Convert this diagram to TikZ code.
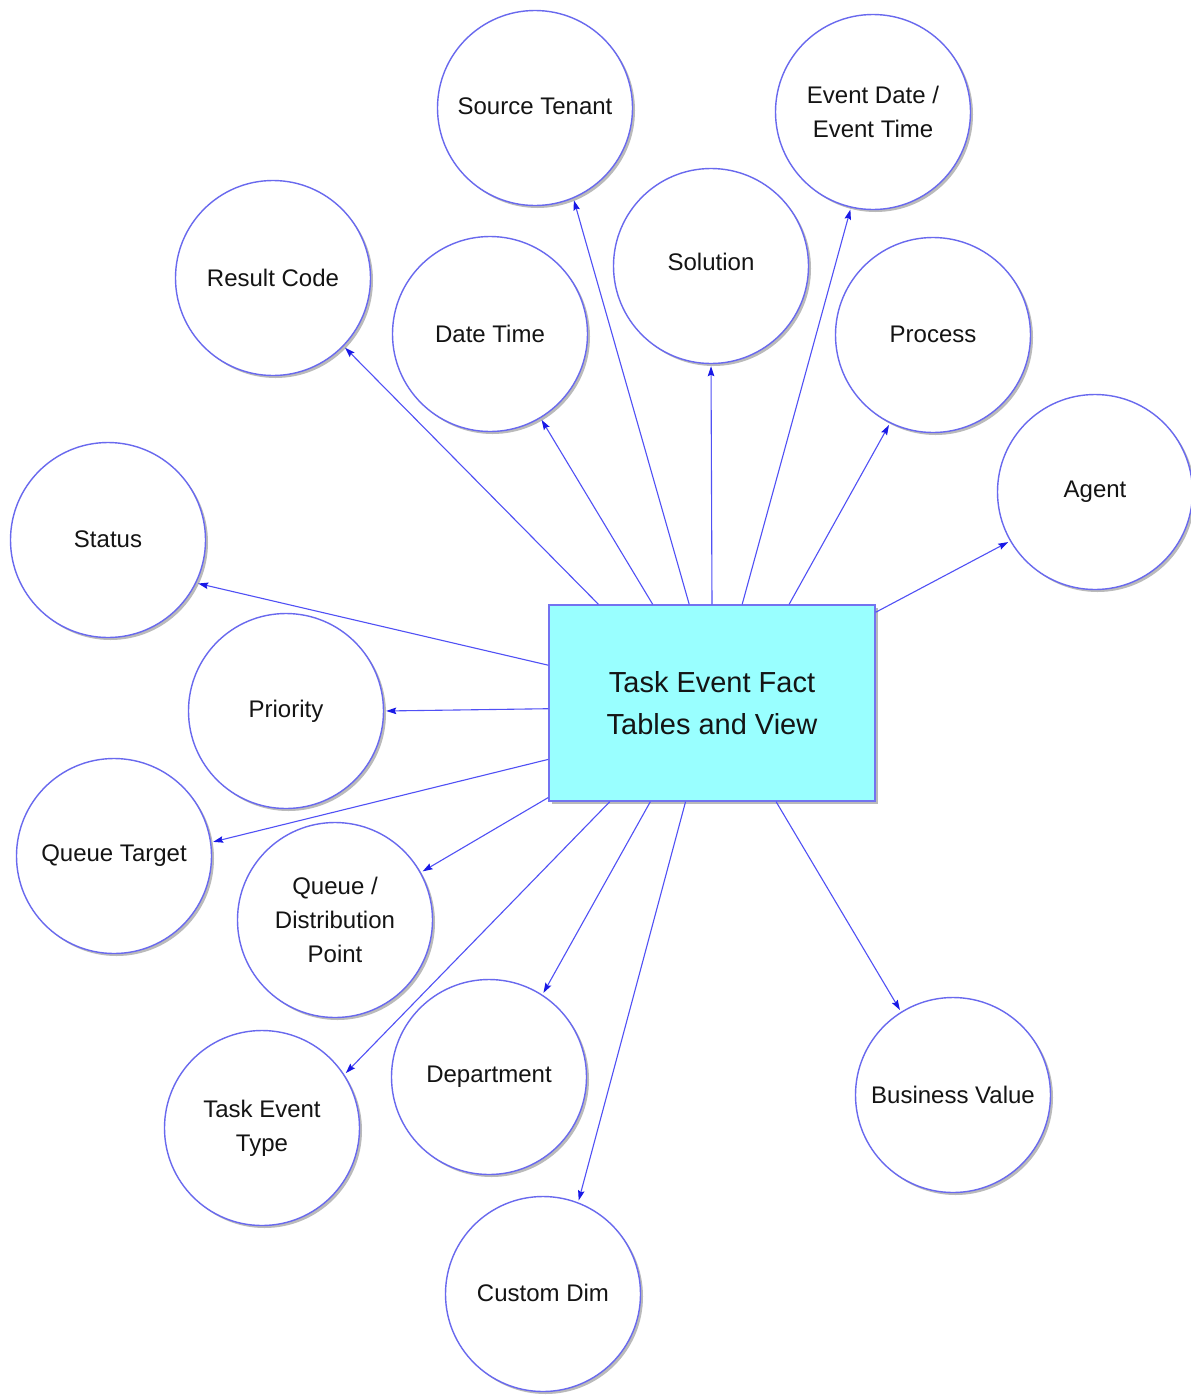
\documentclass[tikz,border=0pt]{standalone}
\usepackage{fontspec}
\setmainfont{Liberation Sans}
\usetikzlibrary{arrows.meta,shadows}
\definecolor{ringblue}{RGB}{105,105,238}
\definecolor{linkblue}{RGB}{80,80,245}
\definecolor{tipblue}{RGB}{25,25,230}
\definecolor{factfill}{RGB}{153,255,255}
\definecolor{factedge}{RGB}{115,115,240}
\definecolor{txtgray}{RGB}{20,20,20}
\tikzset{
  dimcircle/.style={circle, draw=ringblue, line width=1.4pt, fill=white,
    minimum size=195pt, inner sep=0pt, align=center, text=txtgray,
    font=\fontsize{24}{34}\selectfont,
    drop shadow={shadow xshift=2.5pt, shadow yshift=-2.5pt, fill=black!45, opacity=.6}},
  factbox/.style={rectangle, draw=factedge, line width=1.4pt, fill=factfill,
    minimum width=326pt, minimum height=196pt, inner sep=0pt, align=center,
    text=txtgray, font=\fontsize{29}{42}\selectfont,
    drop shadow={shadow xshift=2.5pt, shadow yshift=-2.5pt, fill=black!45, opacity=.6}},
  link/.style={draw=linkblue, line width=1.1pt, shorten >=2pt,
    -{Stealth[length=10pt,width=6.5pt,inset=1.5pt,fill=tipblue,color=tipblue]}}
}
\begin{document}
\begin{tikzpicture}[x=1pt,y=-1pt]
\useasboundingbox (0,0) rectangle (1191,1395);
\fill[white] (0,0) rectangle (1191,1395);

% central fact table
\node[factbox] (fact) at (712,703) {Task Event Fact\\Tables and View};

% dimensions
\node[dimcircle] (src)  at (535,108)  {\raisebox{3pt}{Source Tenant}};
\node[dimcircle] (evt)  at (873,112)  {Event Date /\\Event Time};
\node[dimcircle] (res)  at (273,278)  {Result Code};
\node[dimcircle] (dt)   at (490,334)  {Date Time};
\node[dimcircle] (sol)  at (711,266)  {\raisebox{8pt}{Solution}};
\node[dimcircle] (proc) at (933,335)  {\raisebox{2pt}{Process}};
\node[dimcircle] (agt)  at (1095,492) {\raisebox{6pt}{Agent}};
\node[dimcircle] (stat) at (108,540)  {\raisebox{2pt}{Status}};
\node[dimcircle] (prio) at (286,711)  {Priority};
\node[dimcircle] (qt)   at (114,856)  {\raisebox{2pt}{Queue Target}};
\node[dimcircle] (qdp)  at (335,920)  {Queue /\\Distribution\\Point};
\node[dimcircle] (dept) at (489,1077) {\raisebox{5pt}{Department}};
\node[dimcircle] (tet)  at (262,1128) {Task Event\\Type};
\node[dimcircle] (bv)   at (953,1095) {Business Value};
\node[dimcircle] (cd)   at (543,1294) {\raisebox{3pt}{Custom Dim}};

% connectors from the fact table to each dimension
\draw[link] (fact.139)   -- (res.316.1);
\draw[link] (fact.121.6) -- (dt.301.6);
\draw[link] (fact.103.6) -- (src.293.2);
\draw[link] (fact.90)    -- (sol.270);
\draw[link] (fact.73.1)  -- (evt.257.2);
\draw[link] (fact.52.9)  -- (proc.244.4);
\draw[link] (fact.29.4)  -- (agt.210.3);
\draw[link] (fact.167.2) -- (stat.334.9);
\draw[link] (fact.182.8) -- (prio.0);
\draw[link] (fact.199.9) -- (qt.8.9);
\draw[link] (fact.210.8) -- (qdp.29.8);
\draw[link] (fact.224.1) -- (tet.33.2);
\draw[link] (fact.238.5) -- (dept.57.3);
\draw[link] (fact.255.1) -- (cd.69.4);
\draw[link] (fact.303.1) -- (bv.122.1);
\end{tikzpicture}
\end{document}
